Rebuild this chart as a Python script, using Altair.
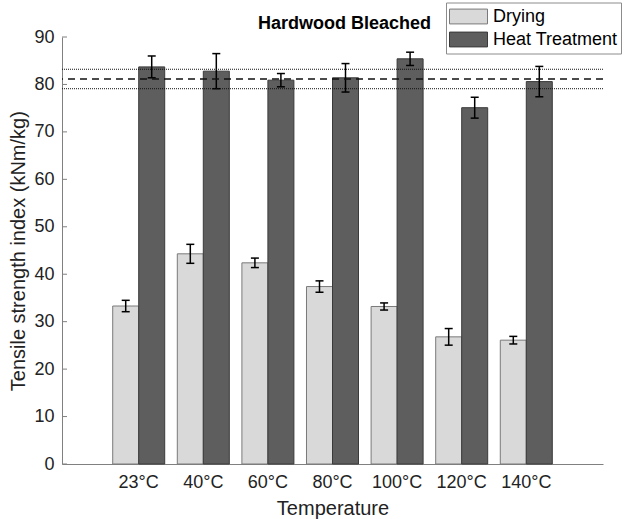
import altair as alt
import pandas as pd

temps = ["23°C", "40°C", "60°C", "80°C", "100°C", "120°C", "140°C"]
series = ["Drying", "Heat Treatment"]
drying_mean = [33.3, 44.3, 42.4, 37.4, 33.2, 26.8, 26.1]
drying_err = [1.2, 2.0, 1.0, 1.2, 0.75, 1.75, 0.8]
heat_mean = [83.7, 82.8, 80.9, 81.4, 85.4, 75.1, 80.6]
heat_err = [2.3, 3.7, 1.4, 3.0, 1.4, 2.2, 3.2]
ref_mean = 81.15
ref_sd = 2.05
y_ticks = [0, 10, 20, 30, 40, 50, 60, 70, 80, 90]

rows = []
for i, t in enumerate(temps):
    for s, m, e in (("Drying", drying_mean, drying_err), ("Heat Treatment", heat_mean, heat_err)):
        rows.append({"temp": t, "series": s, "mean": m[i], "lo": m[i] - e[i], "hi": m[i] + e[i]})
df = pd.DataFrame(rows)

ref_df = pd.DataFrame({
    "value": [ref_mean, ref_mean - ref_sd, ref_mean + ref_sd],
    "kind": ["mean", "band", "band"],
})
tick_df = pd.DataFrame({"v": y_ticks})

FONT = "Liberation Sans"
AX = "#808080"
TXT = "#222222"
YTITLE = "Tensile strength index (kNm/kg)"

x_enc = alt.X(
    "temp:N", sort=temps,
    scale=alt.Scale(paddingInner=0.195, paddingOuter=0.785),
    axis=alt.Axis(title="Temperature", labelAngle=0, ticks=False, domainColor=AX,
                  labelFont=FONT, labelFontSize=18, labelColor=TXT, labelPadding=9,
                  titleFont=FONT, titleFontSize=20, titleFontWeight="normal",
                  titleColor=TXT, titlePadding=7),
)
xo_enc = alt.XOffset("series:N", sort=series, scale=alt.Scale(paddingInner=0, paddingOuter=0))

y_axis = alt.Axis(title=YTITLE, values=y_ticks, ticks=False,
                  grid=False, domainColor=AX, labelFont=FONT, labelFontSize=18,
                  labelColor=TXT, labelPadding=8, titleFont=FONT, titleFontSize=20,
                  titleFontWeight="normal", titleColor=TXT, titleX=-44, titleY=213.7,
                  titleAngle=270, titleAlign="center", titleBaseline="middle")
y_scale = alt.Scale(domain=[0, 90], nice=False)


def yq(field):
    return alt.Y(field, type="quantitative", scale=y_scale, axis=y_axis, title=YTITLE)


bars = alt.Chart(df).mark_bar(strokeWidth=1, opacity=1).encode(
    x=x_enc,
    xOffset=xo_enc,
    y=yq("mean"),
    color=alt.Color("series:N", sort=series,
                    scale=alt.Scale(domain=series, range=["#d9d9d9", "#5e5e5e"]),
                    legend=alt.Legend(title=None, orient="none", legendX=384, legendY=-34.5,
                                      symbolType="M-1,-0.39H1V0.39H-1Z", symbolSize=1444,
                                      symbolStrokeColor="#7a7a7a", symbolStrokeWidth=1,
                                      symbolOpacity=1, clipHeight=22,
                                      labelFont=FONT, labelFontSize=18, labelColor="black",
                                      labelOffset=5, strokeColor="#8c8c8c", fillColor="white",
                                      padding=3, rowPadding=1)),
    stroke=alt.Stroke("series:N", sort=series,
                      scale=alt.Scale(domain=series, range=["#7a7a7a", "#3a3a3a"]), legend=None),
)

err = alt.Chart(df).mark_rule(color="black", strokeWidth=1.5).encode(
    x=x_enc, xOffset=xo_enc,
    y=yq("lo"), y2="hi:Q",
)

caps = alt.Chart(df).transform_fold(["lo", "hi"], as_=["end", "val"]).mark_tick(
    color="black", thickness=1.5, size=8, orient="horizontal", opacity=1
).encode(
    x=x_enc, xOffset=xo_enc,
    y=yq("val"),
)

ref_mean_rule = alt.Chart(ref_df).transform_filter(alt.datum.kind == "mean").mark_rule(
    color="#111111", strokeWidth=1.6, strokeDash=[7, 5]
).encode(y=yq("value"))

ref_band_rule = alt.Chart(ref_df).transform_filter(alt.datum.kind == "band").mark_rule(
    color="#111111", strokeWidth=1, strokeDash=[1, 1]
).encode(y=yq("value"))

inner_ticks = alt.Chart(tick_df).mark_rule(color=AX, strokeWidth=1).encode(
    x=alt.value(0), x2=alt.value(5), y=yq("v")
)

chart = alt.layer(bars, err, caps, ref_mean_rule, ref_band_rule, inner_ticks).properties(
    width=541, height=427,
    title=alt.TitleParams("Hardwood Bleached", font=FONT, fontSize=18, fontWeight="bold",
                          color="black", anchor="middle", dx=12, dy=54.5, offset=10,
                          baseline="alphabetic", frame="group"),
    padding={"left": 62, "top": 37, "right": 22, "bottom": 55},
    autosize=alt.AutoSizeParams(type="none"),
).configure(background="white").configure_view(stroke=None)

chart.save("out.html", embed_options={"renderer": "svg", "actions": False})
